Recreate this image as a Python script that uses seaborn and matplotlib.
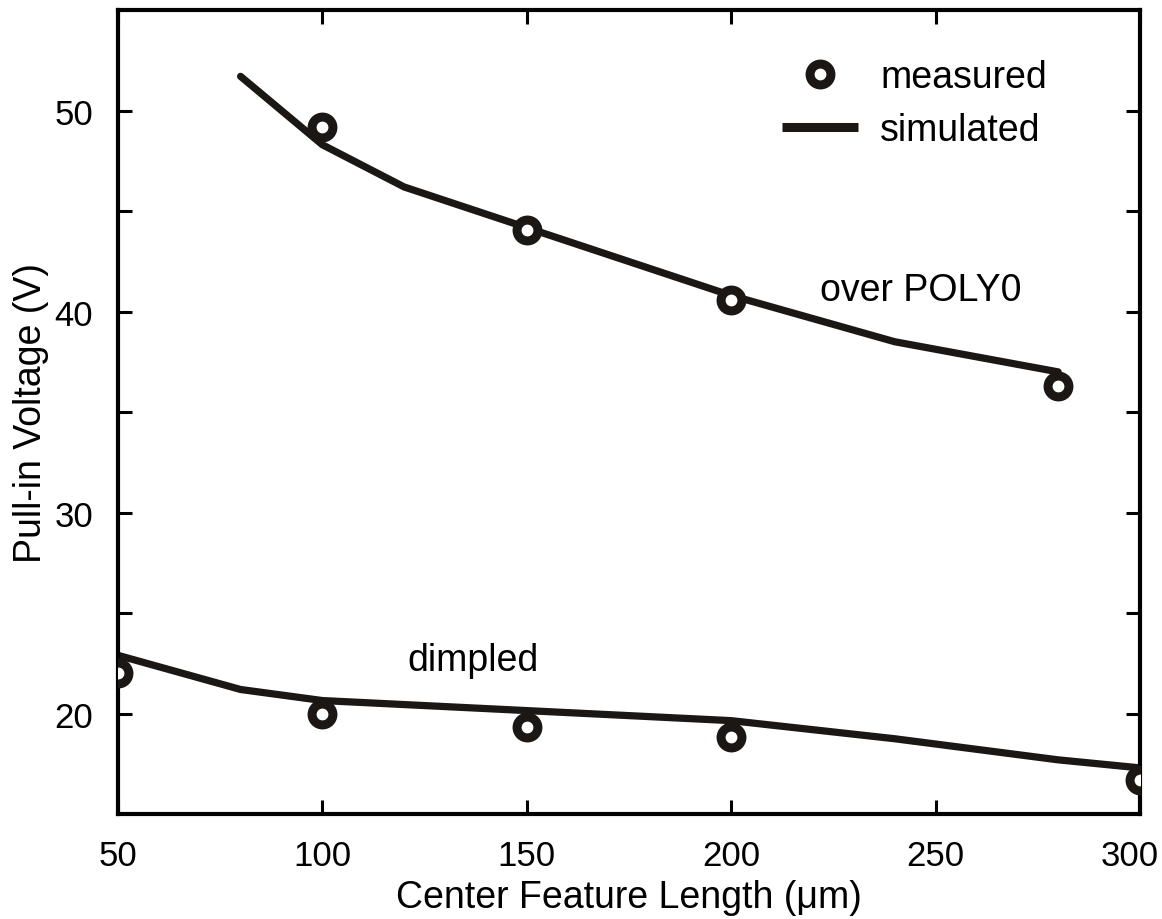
import numpy as np
import pandas as pd
import seaborn as sns
import matplotlib.pyplot as plt
import matplotlib.transforms as mtransforms
from matplotlib.lines import Line2D

sns.set_style('ticks')
plt.rcParams['font.family'] = ['Liberation Sans', 'DejaVu Sans']
plt.rcParams['font.size'] = 27
plt.rcParams['text.color'] = 'black'
plt.rcParams['axes.labelcolor'] = 'black'

INK = '#1a1714'

# simulated curves (vertices)
sim_poly0_x = [80, 100, 120, 160, 200, 240, 280]
sim_poly0_y = [51.7, 48.3, 46.2, 43.5, 40.8, 38.5, 37.0]
sim_dimp_x = [50, 80, 100, 120, 160, 200, 240, 280, 300]
sim_dimp_y = [22.9, 21.2, 20.65, 20.45, 20.05, 19.65, 18.75, 17.7, 17.3]

# measured points
meas_poly0_x = [100, 150, 200, 280]
meas_poly0_y = [49.2, 44.05, 40.6, 36.3]
meas_dimp_x = [50, 100, 150, 200, 300]
meas_dimp_y = [22.0, 20.0, 19.35, 18.85, 16.7]

yticks = [20, 25, 30, 35, 40, 45, 50]
ytick_labels = ['20', '', '30', '', '40', '', '50']
xticks = [50, 100, 150, 200, 250, 300]

sim = pd.concat([
    pd.DataFrame({'x': sim_poly0_x, 'y': sim_poly0_y, 'case': 'over POLY0'}),
    pd.DataFrame({'x': sim_dimp_x, 'y': sim_dimp_y, 'case': 'dimpled'}),
])
meas = pd.concat([
    pd.DataFrame({'x': meas_poly0_x, 'y': meas_poly0_y, 'case': 'over POLY0'}),
    pd.DataFrame({'x': meas_dimp_x, 'y': meas_dimp_y, 'case': 'dimpled'}),
])

fig = plt.figure(figsize=(11.62, 9.2), dpi=100)
ax = fig.add_axes([0.1015, 0.114, 0.8795, 0.874])

sns.lineplot(data=sim, x='x', y='y', units='case', estimator=None, sort=False,
             color=INK, linewidth=5.2, ax=ax, legend=False)
sns.scatterplot(data=meas, x='x', y='y', marker='o', s=15**2,
                facecolor='white', edgecolor=INK, linewidth=6.5,
                ax=ax, legend=False, zorder=3, clip_on=True)

ax.set_xlim(50, 300)
ax.set_ylim(15, 55)
ax.set_xticks(xticks)
ax.set_yticks(yticks)
ax.set_yticklabels(ytick_labels)
ax.tick_params(direction='in', length=10, width=2.2, top=True, right=True,
               labelsize=25, pad=18, colors='black')
for s in ax.spines.values():
    s.set_linewidth(3)
    s.set_color('black')

# last x label sits against the figure edge, nudge it inward a bit
last = ax.get_xticklabels()[-1]
last.set_transform(last.get_transform() +
                   mtransforms.ScaledTranslation(-10 / 100, 0, fig.dpi_scale_trans))

ax.set_xlabel('Center Feature Length (\u03bcm)', fontsize=27, labelpad=5)
ax.set_ylabel('Pull-in Voltage (V)', fontsize=27, labelpad=4)

ax.text(221.7, 40.6, 'over POLY0', fontsize=27, va='baseline')
ax.text(120.7, 22.15, 'dimpled', fontsize=27, va='baseline')

handles = [
    Line2D([], [], marker='o', linestyle='none', markersize=15,
           markerfacecolor='white', markeredgecolor=INK, markeredgewidth=6.5),
    Line2D([], [], color=INK, linewidth=6.5, solid_capstyle='butt'),
]
ax.legend(handles, ['measured', 'simulated'], frameon=False, fontsize=27,
          loc='upper left', bbox_to_anchor=(0.6497, 0.939), borderpad=0,
          borderaxespad=0, handlelength=2.03, handletextpad=0.59,
          labelspacing=0.46)

fig.savefig('out.png', dpi=100)
